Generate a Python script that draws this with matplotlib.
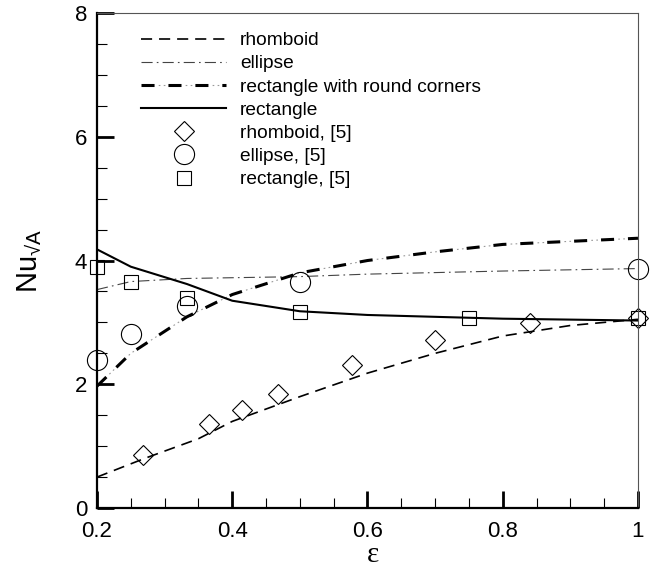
import matplotlib
matplotlib.use('Agg')
import matplotlib.pyplot as plt
from matplotlib.legend_handler import HandlerTuple
from matplotlib.ticker import MultipleLocator

plt.rcParams['font.family'] = ['Liberation Sans', 'DejaVu Sans']
plt.rcParams['mathtext.fontset'] = 'custom'
plt.rcParams['mathtext.rm'] = 'Liberation Sans'
plt.rcParams['lines.scale_dashes'] = False

# correlation curves
rhomb_x = [0.2, 0.27, 0.35, 0.4, 0.5, 0.6, 0.7, 0.8, 0.9, 1.0]
rhomb_y = [0.5, 0.8, 1.12, 1.4, 1.8, 2.18, 2.5, 2.78, 2.95, 3.05]

ellipse_x = [0.2, 0.25, 0.333, 0.5, 0.6, 0.8, 1.0]
ellipse_y = [3.53, 3.66, 3.71, 3.74, 3.78, 3.83, 3.87]

rrc_x = [0.2, 0.25, 0.333, 0.4, 0.5, 0.6, 0.7, 0.8, 0.9, 1.0]
rrc_y = [1.97, 2.5, 3.09, 3.45, 3.8, 4.0, 4.14, 4.26, 4.31, 4.36]

rect_x = [0.2, 0.25, 0.333, 0.4, 0.5, 0.6, 0.8, 1.0]
rect_y = [4.18, 3.9, 3.62, 3.35, 3.18, 3.12, 3.06, 3.03]

# reference data [5]
ref_rhomb_x = [0.268, 0.366, 0.414, 0.467, 0.577, 0.7, 0.84, 1.0]
ref_rhomb_y = [0.86, 1.36, 1.58, 1.84, 2.31, 2.72, 2.99, 3.07]

ref_ellipse_x = [0.2, 0.25, 0.333, 0.5, 1.0]
ref_ellipse_y = [2.4, 2.81, 3.26, 3.66, 3.86]

ref_rect_x = [0.2, 0.25, 0.333, 0.5, 0.75, 1.0]
ref_rect_y = [3.9, 3.65, 3.4, 3.17, 3.075, 3.07]

fig = plt.figure(figsize=(6.52, 5.71), dpi=100)
ax = fig.add_axes([0.1488, 0.1103, 0.8297, 0.8669])

l_rh, = ax.plot(rhomb_x, rhomb_y, color='black', lw=1.2, linestyle=(0, (8, 5)))
l_el, = ax.plot(ellipse_x, ellipse_y, color='#444444', lw=0.8,
                linestyle=(0, (8, 3, 1.2, 3)))
l_rc1, = ax.plot(rrc_x, rrc_y, color='black', lw=2.2, linestyle=(0, (9.4, 10)))
l_rc2, = ax.plot(rrc_x, rrc_y, color='#999999', lw=0.8,
                 linestyle=(7.0, (1.2, 2.4, 1.2, 14.6)))
l_re, = ax.plot(rect_x, rect_y, color='black', lw=1.5)

m_rh, = ax.plot(ref_rhomb_x, ref_rhomb_y, 'D', ms=10.5, mfc='none', mec='black',
                mew=0.8, clip_on=False)
m_el, = ax.plot(ref_ellipse_x, ref_ellipse_y, 'o', ms=14.5, mfc='none', mec='black',
                mew=0.8, clip_on=False)
m_re, = ax.plot(ref_rect_x, ref_rect_y, 's', ms=9.5, mfc='none', mec='black',
                mew=0.8, clip_on=False)

ax.set_xlim(0.2, 1.0)
ax.set_ylim(0, 8)
ax.xaxis.set_major_locator(MultipleLocator(0.2))
ax.xaxis.set_minor_locator(MultipleLocator(0.05))
ax.yaxis.set_major_locator(MultipleLocator(2))
ax.yaxis.set_minor_locator(MultipleLocator(0.5))
ax.set_xticks([0.2, 0.4, 0.6, 0.8, 1.0], ['0.2', '0.4', '0.6', '0.8', '1'])
ax.tick_params(which='major', direction='in', length=12, width=2,
               labelsize=16, pad=7)
ax.tick_params(which='minor', direction='in', length=7, width=0.8)
ax.tick_params(axis='x', pad=9)

for side in ['left', 'bottom']:
    ax.spines[side].set_linewidth(1.6)
for side in ['right', 'top']:
    ax.spines[side].set_linewidth(0.8)
    ax.spines[side].set_color('#555555')

ax.set_ylabel(r'Nu$_{\mathrm{√A}}$', fontsize=21, labelpad=22)
ax.set_xlabel('ε', fontsize=21, family=['Liberation Serif'])
ax.xaxis.set_label_coords(0.51, -0.068)

handles = [l_rh, l_el, (l_rc1, l_rc2), l_re, m_rh, m_el, m_re]
labels = ['rhomboid', 'ellipse', 'rectangle with round corners', 'rectangle',
          'rhomboid, [5]', 'ellipse, [5]', 'rectangle, [5]']
ax.legend(handles, labels, loc='upper left', bbox_to_anchor=(0.082, 0.962),
          frameon=False, fontsize=13.8, handlelength=4.4, handletextpad=0.75,
          labelspacing=0.3, numpoints=1, borderpad=0, borderaxespad=0,
          handler_map={tuple: HandlerTuple(ndivide=1)})

fig.savefig('out.png', dpi=100)
